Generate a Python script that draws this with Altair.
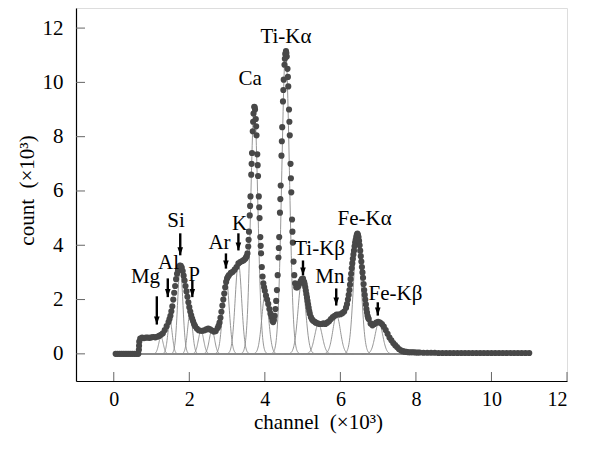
import altair as alt
import pandas as pd
import numpy as np

# ---- measured spectrum (dots), channel x10^3 vs count x10^3 ----
spec_x = [0.05, 0.10, 0.15, 0.20, 0.25, 0.30, 0.35, 0.40, 0.45, 0.50, 0.55, 0.60, 0.65, 0.67,
          0.70, 0.75, 0.80, 0.85, 0.90, 0.95, 1.00, 1.05, 1.10, 1.15, 1.20,
          1.25, 1.30, 1.35, 1.40, 1.45, 1.50, 1.55, 1.60, 1.65, 1.70, 1.75, 1.80, 1.85, 1.90, 1.95,
          2.00, 2.05, 2.10, 2.15, 2.20, 2.25, 2.30, 2.35, 2.40, 2.45, 2.50, 2.55, 2.60, 2.65, 2.70,
          2.75, 2.80, 2.85, 2.90, 2.95, 3.00, 3.05, 3.10, 3.15, 3.20, 3.25, 3.30, 3.35, 3.40, 3.44,
          3.48, 3.50, 3.52, 3.54, 3.56, 3.58, 3.60, 3.62, 3.64, 3.66, 3.68, 3.70, 3.72, 3.74, 3.76,
          3.78, 3.80, 3.82, 3.84, 3.86, 3.88, 3.90, 3.92, 3.94, 3.96, 3.98, 4.00, 4.03, 4.06, 4.09,
          4.12, 4.15, 4.18, 4.20, 4.22,
          4.24, 4.26, 4.28, 4.30, 4.32, 4.34, 4.36, 4.38, 4.40, 4.42, 4.44, 4.46, 4.48, 4.50, 4.52,
          4.54, 4.56, 4.58, 4.60, 4.62, 4.64, 4.66, 4.68, 4.70, 4.72, 4.74, 4.76, 4.78, 4.80, 4.83,
          4.86, 4.89, 4.92, 4.95, 4.98, 5.01, 5.04, 5.07, 5.10, 5.13, 5.16, 5.19, 5.22, 5.25, 5.28,
          5.32, 5.35, 5.40, 5.45, 5.50, 5.55, 5.60, 5.65, 5.70, 5.75, 5.80, 5.85, 5.90, 5.95, 6.00,
          6.05, 6.10, 6.15, 6.20, 6.24, 6.27, 6.30, 6.33, 6.36, 6.39, 6.42, 6.45, 6.48, 6.51, 6.54,
          6.57, 6.60, 6.63, 6.66, 6.69, 6.72, 6.75, 6.80, 6.85, 6.90, 6.95, 7.00, 7.05, 7.10, 7.15,
          7.20, 7.25, 7.30, 7.35, 7.40, 7.45, 7.50, 7.55, 7.60, 7.65, 7.70, 7.75, 7.80, 7.85, 7.90,
          7.95, 8.00, 8.05, 8.10, 8.20, 8.30, 8.40, 8.50, 8.60, 8.70, 8.80, 8.90, 9.00, 9.10, 9.20,
          9.30, 9.40, 9.50, 9.60, 9.70, 9.80, 9.90, 10.00, 10.10, 10.20, 10.30, 10.40, 10.50, 10.60,
          10.70, 10.80, 10.90, 11.00]
spec_y = [0.00, 0.00, 0.00, 0.00, 0.00, 0.00, 0.00, 0.00, 0.00, 0.00, 0.00, 0.00, 0.00, 0.30,
          0.56, 0.60, 0.58, 0.60, 0.60, 0.59, 0.61, 0.62, 0.61, 0.63, 0.66,
          0.70, 0.76, 0.88, 1.02, 1.17, 1.40, 1.75, 2.25, 2.75, 3.08, 3.25, 3.18, 2.88, 2.50, 2.10,
          1.72, 1.42, 1.20, 1.03, 0.93, 0.87, 0.85, 0.85, 0.87, 0.90, 0.93, 0.90, 0.86, 0.82, 0.84,
          0.95, 1.15, 1.55, 2.00, 2.45, 2.78, 2.90, 2.98, 3.02, 3.10, 3.20, 3.33, 3.38, 3.42, 3.45,
          3.50, 3.55, 3.60, 3.70, 3.95, 4.50, 5.10, 5.80, 6.60, 7.40, 8.20, 8.85, 9.10, 9.00, 8.65,
          8.05, 7.35, 6.55, 5.80, 5.00, 4.30, 3.70, 3.20, 2.85, 2.60, 2.45, 2.32, 2.15, 2.00, 1.84,
          1.65, 1.48, 1.35, 1.22, 1.17,
          1.25, 1.40, 1.65, 1.95, 2.35, 2.90, 3.55, 4.30, 5.20, 6.20, 7.30, 8.35, 9.30, 10.10, 10.65,
          11.05, 11.15, 10.95, 10.50, 9.85, 9.00, 8.05, 7.00, 5.95, 4.95, 4.10, 3.40, 2.90, 2.60, 2.45,
          2.45, 2.50, 2.60, 2.68, 2.75, 2.77, 2.65, 2.45, 2.20, 1.95, 1.70, 1.48, 1.35, 1.27, 1.22,
          1.18, 1.15, 1.12, 1.10, 1.10, 1.12, 1.10, 1.15, 1.20, 1.28, 1.35, 1.40, 1.45, 1.45, 1.46,
          1.50, 1.56, 1.70, 2.00, 2.35, 2.75, 3.15, 3.50, 3.80, 4.10, 4.30, 4.43, 4.30, 4.00, 3.60,
          3.20, 2.80, 2.35, 2.00, 1.65, 1.40, 1.28, 1.12, 1.05, 1.10, 1.15, 1.18, 1.15, 1.10, 1.00,
          0.88, 0.74, 0.60, 0.50, 0.40, 0.32, 0.25, 0.18, 0.13, 0.10, 0.08, 0.07, 0.06, 0.06, 0.06,
          0.06, 0.05, 0.05, 0.05, 0.04, 0.04, 0.04, 0.04, 0.03, 0.03, 0.03, 0.03, 0.03, 0.03, 0.03,
          0.03, 0.03, 0.03, 0.03, 0.03, 0.03, 0.03, 0.03, 0.03, 0.03, 0.03, 0.03, 0.03, 0.03,
          0.03, 0.03, 0.03, 0.03]

# extra readings where the spectrum is steep (dense channels in the original)
fine_x = [0.665, 0.675,
          1.475, 1.525, 1.575, 1.625, 1.675, 1.725, 1.775, 1.825, 1.875, 1.925, 1.975, 2.025, 2.075,
          2.125,
          2.775, 2.825, 2.875, 2.925, 2.975, 3.025,
          3.57, 3.61, 3.65, 3.69, 3.73, 3.77, 3.81, 3.85, 3.89,
          4.37, 4.41, 4.45, 4.49, 4.53, 4.57, 4.61, 4.65, 4.69, 4.73,
          5.055, 5.085, 5.115, 5.145, 5.175,
          6.175, 6.22, 6.255, 6.285, 6.315, 6.345, 6.375, 6.405, 6.435, 6.465, 6.495, 6.525, 6.555,
          6.585, 6.615, 6.645, 6.675, 6.705, 6.735]
fine_y = [0.15, 0.45,
          1.28, 1.57, 2.00, 2.50, 2.95, 3.20, 3.24, 3.05, 2.70, 2.30, 1.90, 1.56, 1.30,
          1.10,
          1.03, 1.33, 1.78, 2.22, 2.65, 2.85,
          4.20, 5.45, 7.00, 8.55, 9.08, 8.38, 6.95, 5.40, 3.98,
          3.90, 5.70, 7.83, 9.72, 10.87, 11.08, 10.20, 8.55, 6.47, 4.50,
          2.56, 2.33, 2.08, 1.82, 1.58,
          1.83, 2.17, 2.55, 2.95, 3.33, 3.66, 3.96, 4.20, 4.38, 4.38, 4.16, 3.80, 3.40,
          3.00, 2.57, 2.17, 1.82, 1.52, 1.33]

# ---- fitted Gaussian components ----
peak_name = ["Mg", "Al", "Si", "P", "S", "Cl", "Ar", "K", "Ca", "Ca-Kb",
             "Ti-Ka", "Ti-Kb", "Cr", "Mn", "Fe-Ka", "Fe-Kb"]
peak_center = [1.25, 1.49, 1.76, 2.02, 2.31, 2.60, 2.97, 3.30, 3.72, 4.01,
               4.55, 4.98, 5.42, 5.90, 6.45, 7.02]
peak_height = [0.62, 1.20, 3.20, 1.50, 0.85, 0.88, 2.85, 3.35, 9.10, 2.20,
               11.15, 2.70, 1.10, 1.42, 4.40, 1.15]
peak_sigma = [0.060, 0.060, 0.068, 0.065, 0.070, 0.070, 0.085, 0.085, 0.095, 0.090,
              0.100, 0.100, 0.100, 0.100, 0.100, 0.100]

# ---- annotations ----
label_text = ["Mg", "Al", "Si", "P", "Ar", "K", "Ca", "Ti-Kα", "Ti-Kβ", "Mn", "Fe-Kα", "Fe-Kβ"]
label_x = [0.84, 1.45, 1.65, 2.13, 2.80, 3.33, 3.61, 4.56, 5.45, 5.72, 6.64, 7.46]
label_y = [2.60, 3.12, 4.67, 2.70, 3.87, 4.55, 9.90, 11.44, 3.63, 2.60, 4.73, 1.97]

arrow_x = [1.14, 1.43, 1.76, 2.08, 2.97, 3.30, 5.01, 5.89, 6.99]
arrow_top = [2.12, 2.78, 4.44, 2.70, 3.70, 4.44, 3.44, 2.41, 1.90]
arrow_tip = [1.08, 2.09, 3.63, 2.09, 3.14, 3.81, 2.89, 1.78, 1.41]

x_ticks = [0, 2, 4, 6, 8, 10, 12]
y_ticks = [0, 2, 4, 6, 8, 10, 12]

FONT = "Liberation Serif"
FS = 21
W, H = 491, 373

spec = pd.DataFrame({"x": spec_x + fine_x, "y": spec_y + fine_y})

rows = []
for n, c, a, s in zip(peak_name, peak_center, peak_height, peak_sigma):
    xs = np.concatenate([[0.05], np.arange(c - 4.5 * s, c + 4.5 * s + 1e-9, s / 12), [11.0]])
    ys = a * np.exp(-((xs - c) ** 2) / (2 * s * s))
    for xv, yv in zip(xs, ys):
        rows.append({"name": n, "x": float(xv), "y": float(yv)})
fits = pd.DataFrame(rows)

labels = pd.DataFrame({"t": label_text, "x": label_x, "y": label_y})
arrows = pd.DataFrame({"x": arrow_x, "top": arrow_top, "tip": arrow_tip})

xscale = alt.Scale(domain=[-1, 12], nice=False, zero=False)
yscale = alt.Scale(domain=[-1, 12.74], nice=False, zero=False)

xaxis = alt.Axis(values=x_ticks, title="channel\u2002(×10³)", grid=False, ticks=False, tickSize=0,
                 labelFont=FONT, labelFontSize=20, labelColor="black", labelPadding=8,
                 domainColor="black", domainWidth=1.2,
                 titleFont=FONT, titleFontSize=FS, titleFontWeight="normal", titleColor="black",
                 titleBaseline="alphabetic", titleY=47, titleX=242)
yaxis = alt.Axis(values=y_ticks, title="count\u2002(×10³)", grid=False, ticks=False, tickSize=0,
                 labelFont=FONT, labelFontSize=FS, labelColor="black", labelPadding=13,
                 domainColor="black", domainWidth=1.2,
                 titleFont=FONT, titleFontSize=FS, titleFontWeight="normal", titleColor="black",
                 titleBaseline="alphabetic", titleX=-43, titleY=182, titleAngle=270)

base_x = alt.X("x:Q", scale=xscale, axis=xaxis)
base_y = alt.Y("y:Q", scale=yscale, axis=yaxis)

fit_lines = alt.Chart(fits).mark_line(color="#8a8a8a", strokeWidth=0.9, clip=True).encode(
    x=base_x, y=base_y, detail="name:N")

dots = alt.Chart(spec).mark_circle(color="#484848", size=38, opacity=1).encode(
    x=alt.X("x:Q", scale=xscale), y=alt.Y("y:Q", scale=yscale))

xt = alt.Chart(pd.DataFrame({"v": x_ticks})).mark_rule(color="#666666", strokeWidth=1).encode(
    x=alt.X("v:Q", scale=xscale), y=alt.value(H), y2=alt.value(H - 9))
yt = alt.Chart(pd.DataFrame({"v": y_ticks})).mark_rule(color="#666666", strokeWidth=1).encode(
    y=alt.Y("v:Q", scale=yscale), x=alt.value(0), x2=alt.value(9))

shafts = alt.Chart(arrows).mark_rule(color="black", strokeWidth=2.4).encode(
    x=alt.X("x:Q", scale=xscale), y=alt.Y("top:Q", scale=yscale), y2="tip:Q")
heads = alt.Chart(arrows).mark_point(shape="M0,1L-0.7,-1L0.7,-1Z", filled=True, color="black",
                                      size=64, opacity=1, yOffset=-4).encode(
    x=alt.X("x:Q", scale=xscale), y=alt.Y("tip:Q", scale=yscale))

texts = alt.Chart(labels).mark_text(font=FONT, fontSize=FS, color="black", align="center",
                                    baseline="alphabetic").encode(
    x=alt.X("x:Q", scale=xscale), y=alt.Y("y:Q", scale=yscale), text="t:N")

chart = alt.layer(fit_lines, dots, xt, yt, shafts, heads, texts).properties(
    width=W, height=H,
    padding={"left": 68, "top": 0, "right": 15, "bottom": 60},
    autosize=alt.AutoSizeParams(type="none"),
).configure_view(stroke=None).configure(background="white")

chart.save("out.html", embed_options={"renderer": "svg", "actions": False})
